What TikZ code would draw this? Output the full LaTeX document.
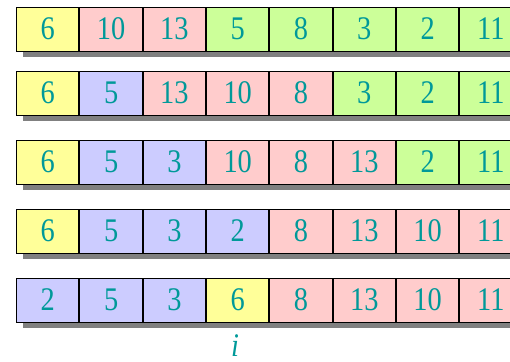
\documentclass[tikz,border=0pt]{standalone}
\usepackage{fontspec}
\setmainfont{Liberation Serif}
\newfontfamily\cellfont[FakeStretch=0.86]{Liberation Serif}
\usepackage{xcolor}
\usepackage{tikz}
\usetikzlibrary{positioning}
\definecolor{cYellow}{HTML}{FFFF99}
\definecolor{cPink}{HTML}{FFCCCC}
\definecolor{cGreen}{HTML}{CCFF99}
\definecolor{cBlue}{HTML}{CCCCFF}
\definecolor{cTeal}{HTML}{009999}
\definecolor{cShade}{HTML}{808080}
\tikzset{
  cell/.style={draw=black, line width=0.5pt, minimum width=31.15pt, minimum height=22pt,
    inner sep=0pt, font=\cellfont\fontsize{16.5}{16.5}\selectfont, text=cTeal},
  ycell/.style={cell, fill=cYellow},
  rcell/.style={cell, fill=cPink},
  gcell/.style={cell, fill=cGreen},
  bcell/.style={cell, fill=cBlue},
  rowshade/.style={fill=cShade},
  idx/.style={inner sep=0pt, font=\cellfont\fontsize{16.5}{16.5}\selectfont\itshape, text=cTeal},
}

\begin{document}
\begin{tikzpicture}
        \useasboundingbox (0,0) rectangle (255pt,180.5pt);
        \clip (0,0) rectangle (255pt,180.5pt);
        % one row per pass
        \foreach \row/\ypos/\cells in {
            1/166pt/{y/6,r/10,r/13,g/5,g/8,g/3,g/2,g/11},
            2/134pt/{y/6,b/5,r/13,r/10,r/8,g/3,g/2,g/11},
            3/99.5pt/{y/6,b/5,b/3,r/10,r/8,r/13,g/2,g/11},
            4/65pt/{y/6,b/5,b/3,b/2,r/8,r/13,r/10,r/11},
            5/30.5pt/{b/2,b/5,b/3,y/6,r/8,r/13,r/10,r/11}} {
          \fill[rowshade] (11.35pt,\ypos) ++(0,-14pt) rectangle ++(249.2pt,22pt);
          \foreach \kind/\val [count=\col] in \cells {
            \ifnum\col=1
              \node[\kind cell] (r\row c\col) at (23.9pt,\ypos) {\val};
            \else
              \pgfmathtruncatemacro{\prev}{\col-1}
              \node[\kind cell, right=0pt of r\row c\prev] (r\row c\col) {\val};
            \fi
          }
        }
        \node[idx] (ilabel) at (117.5pt,7.6pt) {i};
      \end{tikzpicture}
\end{document}
